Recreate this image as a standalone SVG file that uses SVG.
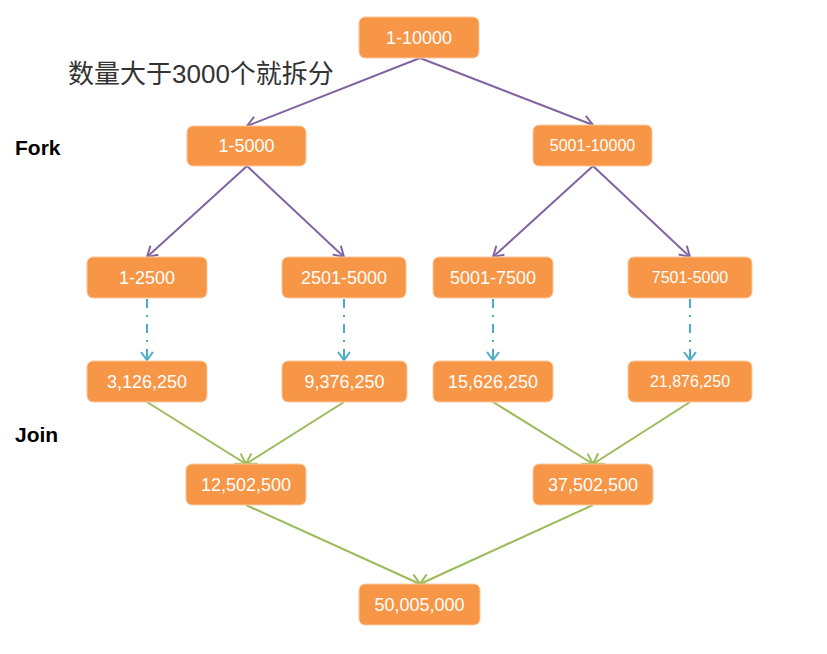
<svg xmlns="http://www.w3.org/2000/svg" width="827" height="654" viewBox="0 0 827 654">
<style>
.box{fill:#F79646;stroke:#FBC9A0;stroke-width:1}
.t{fill:#fff;font-family:"Liberation Sans",Arial,sans-serif;font-size:18px;text-anchor:middle}
.ts{font-size:16px}
.p{stroke:#8064A2;stroke-width:2;fill:none;marker-end:url(#ap)}
.c{stroke:#4BACC6;stroke-width:2;fill:none;stroke-dasharray:9 7 2 7;marker-end:url(#ac)}
.g{stroke:#9BBB59;stroke-width:2;fill:none;marker-end:url(#ag)}
.lbl{font-family:"Liberation Sans",Arial,sans-serif;font-weight:bold;font-size:21px;fill:#000}
</style>
<defs>
<marker id="ap" markerUnits="userSpaceOnUse" markerWidth="14" markerHeight="14" refX="11" refY="7" orient="auto" viewBox="0 0 14 14"><path d="M1,1 L11,7 L1,13" fill="none" stroke="#8064A2" stroke-width="2"/></marker>
<marker id="ac" markerUnits="userSpaceOnUse" markerWidth="14" markerHeight="14" refX="11" refY="7" orient="auto" viewBox="0 0 14 14"><path d="M3,1 L11,7 L3,13" fill="none" stroke="#4BACC6" stroke-width="2"/></marker>
<marker id="ag" markerUnits="userSpaceOnUse" markerWidth="14" markerHeight="14" refX="11" refY="7" orient="auto" viewBox="0 0 14 14"><path d="M1,1 L11,7 L1,13" fill="none" stroke="#9BBB59" stroke-width="2"/></marker>
</defs>
<rect width="827" height="654" fill="#fff"/>
<g id="connectors">
<line class="p" x1="420" y1="58" x2="247" y2="126"/>
<line class="p" x1="420" y1="58" x2="593" y2="125"/>
<line class="p" x1="247" y1="166" x2="147" y2="257"/>
<line class="p" x1="247" y1="166" x2="344" y2="257"/>
<line class="p" x1="593" y1="166" x2="493" y2="257"/>
<line class="p" x1="593" y1="166" x2="690" y2="257"/>
<line class="c" x1="147" y1="299" x2="147" y2="360"/>
<line class="c" x1="344" y1="299" x2="344" y2="360"/>
<line class="c" x1="493" y1="299" x2="493" y2="360"/>
<line class="c" x1="690" y1="299" x2="690" y2="360"/>
<line class="g" x1="147" y1="402" x2="246" y2="464"/>
<line class="g" x1="344" y1="402" x2="246" y2="464"/>
<line class="g" x1="493" y1="402" x2="593" y2="464"/>
<line class="g" x1="690" y1="402" x2="593" y2="464"/>
<line class="g" x1="246" y1="505" x2="420" y2="584"/>
<line class="g" x1="593" y1="505" x2="420" y2="584"/>
</g>
<text x="68" y="83" font-family="'Liberation Sans','Noto Sans CJK SC',sans-serif" font-size="26" fill="#333">数量大于3000个就拆分</text>
<text class="lbl" x="15" y="155">Fork</text>
<text class="lbl" x="15" y="442">Join</text>
<g id="n1"><rect class="box" x="359" y="17" width="120" height="41" rx="6"/><text class="t" x="419" y="44">1-10000</text></g>
<g id="n2"><rect class="box" x="187" y="126" width="119" height="40" rx="6"/><text class="t" x="246.5" y="152">1-5000</text></g>
<g id="n3"><rect class="box" x="533" y="125" width="119" height="41" rx="6"/><text class="t ts" x="592.5" y="151">5001-10000</text></g>
<g id="n4"><rect class="box" x="87" y="257" width="120" height="41" rx="6"/><text class="t" x="147" y="284">1-2500</text></g>
<g id="n5"><rect class="box" x="282" y="257" width="124" height="41" rx="6"/><text class="t" x="344" y="284">2501-5000</text></g>
<g id="n6"><rect class="box" x="433" y="257" width="120" height="41" rx="6"/><text class="t" x="493" y="284">5001-7500</text></g>
<g id="n7"><rect class="box" x="628" y="257" width="124" height="41" rx="6"/><text class="t ts" x="690" y="283">7501-5000</text></g>
<g id="n8"><rect class="box" x="87" y="361" width="120" height="41" rx="6"/><text class="t" x="147" y="388">3,126,250</text></g>
<g id="n9"><rect class="box" x="282" y="361" width="125" height="41" rx="6"/><text class="t" x="344.5" y="388">9,376,250</text></g>
<g id="n10"><rect class="box" x="433" y="361" width="120" height="41" rx="6"/><text class="t" x="493" y="388">15,626,250</text></g>
<g id="n11"><rect class="box" x="628" y="361" width="124" height="41" rx="6"/><text class="t ts" x="690" y="387">21,876,250</text></g>
<g id="n12"><rect class="box" x="186" y="464" width="120" height="41" rx="6"/><text class="t" x="246" y="491">12,502,500</text></g>
<g id="n13"><rect class="box" x="533" y="464" width="120" height="41" rx="6"/><text class="t" x="593" y="491">37,502,500</text></g>
<g id="n14"><rect class="box" x="359" y="584" width="121" height="41" rx="6"/><text class="t" x="419.5" y="611">50,005,000</text></g>
</svg>
